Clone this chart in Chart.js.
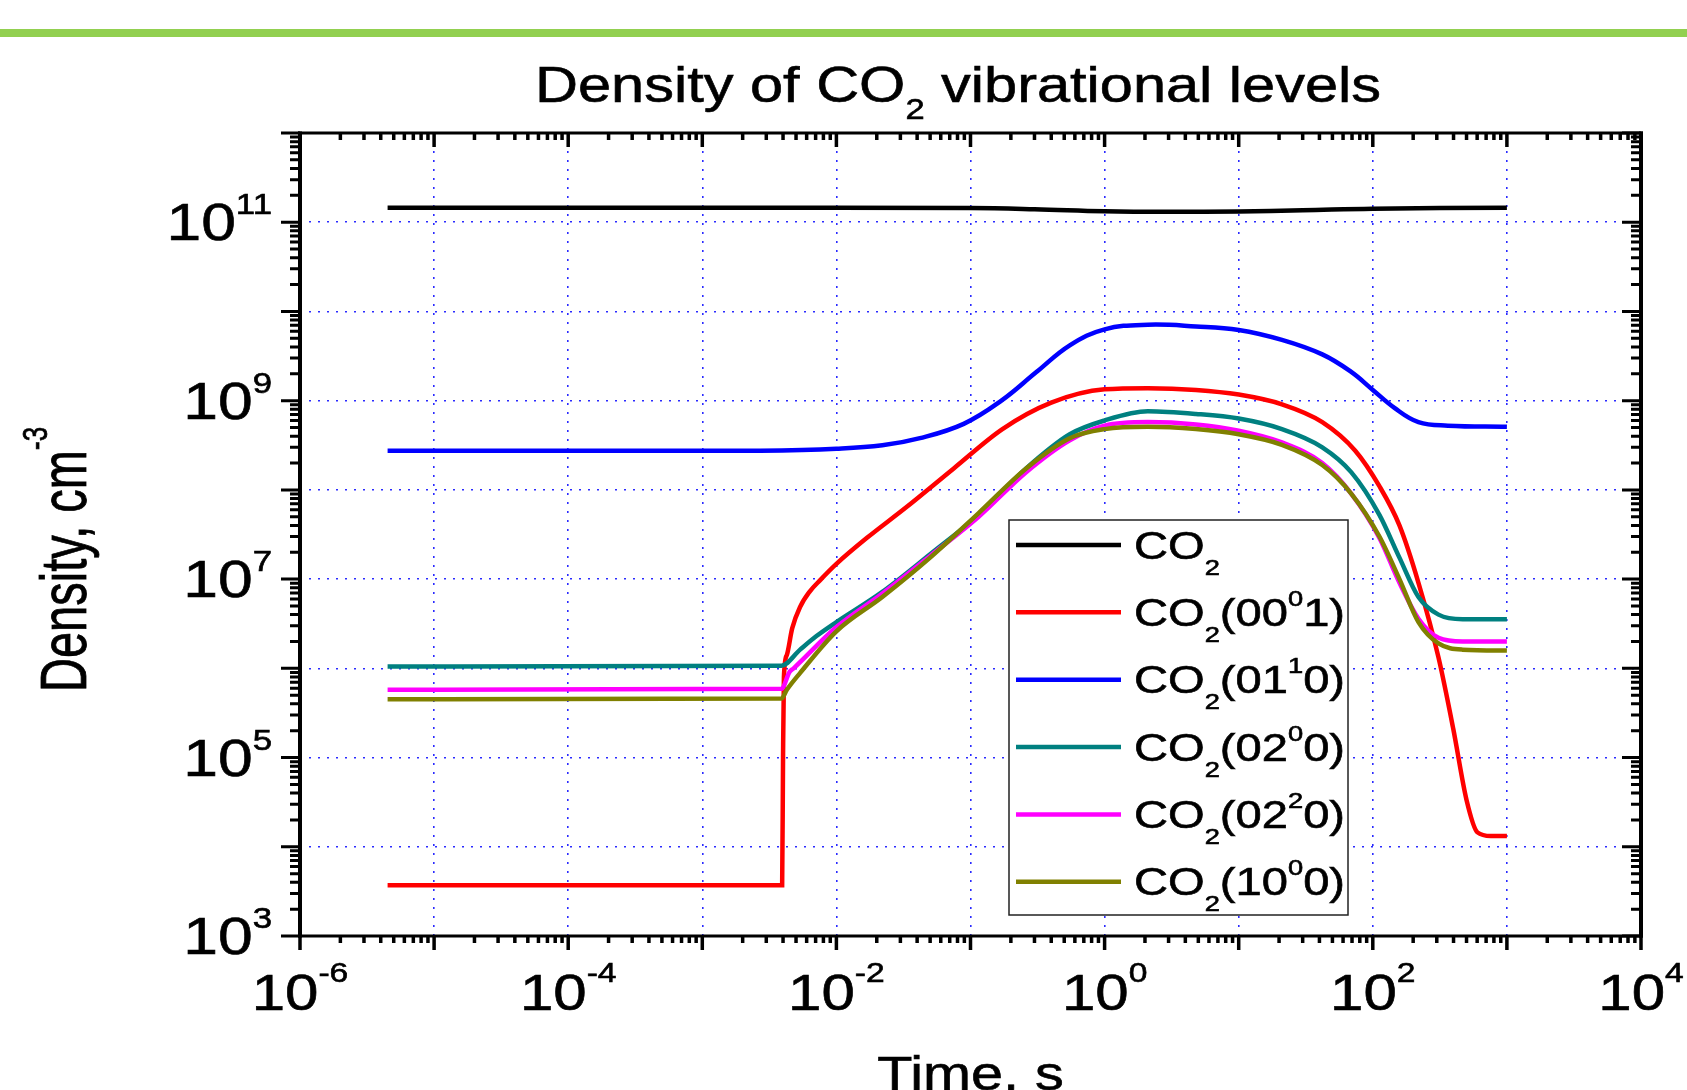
<!DOCTYPE html>
<html>
<head>
<meta charset="utf-8">
<title>Density of CO2 vibrational levels</title>
<script src="https://cdn.jsdelivr.net/npm/chart.js@4.4.1/dist/chart.umd.min.js"></script>
<style>
  html, body { margin: 0; padding: 0; background: #ffffff; overflow: hidden; }
  #plot { display: block; width: 1687px; height: 1090px; }
</style>
</head>
<body>
<canvas id="plot" width="1687" height="1090"></canvas>
<script>
// ---- Data: time (s) and density (cm^-3) for each vibrational level ----
const tCO2 = [4.5e-6, 1e-3, 0.1, 0.3, 1, 3, 10, 30, 100, 1000];
const nCO2 = [1.45e11, 1.45e11, 1.44e11, 1.40e11, 1.33e11, 1.31e11, 1.32e11, 1.36e11, 1.42e11, 1.45e11];

const t0001 = [4.5e-6, 3.94e-3, 4.0e-3, 4.06e-3, 4.27e-3, 4.68e-3, 5.37e-3, 6.3e-3, 7.6e-3, 1e-2,
               1.69e-2, 3.28e-2, 7.5e-2, 0.173, 0.40, 1, 2.1, 4.8, 10, 21,
               42, 74, 112, 158, 219, 309, 398, 501, 603, 759, 1000];
const n0001 = [3.7e3, 3.7e3, 1.0e5, 7.9e5, 1.41e6, 2.8e6, 4.9e6, 7.2e6, 9.8e6, 1.48e7,
               2.9e7, 6.3e7, 1.74e8, 4.8e8, 9.5e8, 1.34e9, 1.38e9, 1.32e9, 1.17e9, 9.1e8,
               5.75e8, 2.75e8, 1.1e8, 4.0e7, 9.1e6, 1.32e6, 2.1e5, 3.3e4, 1.45e4, 1.32e4, 1.32e4];

const t0110 = [4.5e-6, 1e-3, 2.7e-3, 1e-2, 2.2e-2, 4.2e-2, 8.9e-2, 0.17, 0.31, 0.55,
               1, 2.1, 4.8, 10, 21, 42, 69, 100, 145, 219, 363, 1000];
const n0110 = [2.75e8, 2.75e8, 2.75e8, 2.9e8, 3.16e8, 3.8e8, 5.5e8, 1.0e9, 2.09e9, 4.17e9,
               6.3e9, 7.1e9, 6.8e9, 6.2e9, 4.8e9, 3.3e9, 2.1e9, 1.32e9, 8.3e8, 5.75e8, 5.25e8, 5.1e8];

const t0200 = [4.5e-6, 3.9e-3, 5.36e-3, 7.1e-3, 1e-2, 2.2e-2, 5e-2, 0.115, 0.26, 0.55, 1,
               2.1, 4.8, 10, 21, 42, 69, 112, 158, 219, 309, 468, 1000];
const n0200 = [1.05e6, 1.07e6, 1.62e6, 2.3e6, 3.3e6, 7.2e6, 1.9e7, 5.25e7, 1.74e8, 4.2e8, 6.0e8,
               7.6e8, 7.1e8, 6.3e8, 4.8e8, 3.0e8, 1.58e8, 5.25e7, 1.74e7, 6.3e6, 4.0e6, 3.55e6, 3.55e6];

const t0220 = [4.5e-6, 3.9e-3, 4.47e-3, 4.8e-3, 1e-2, 2.2e-2, 5e-2, 0.115, 0.26, 0.55,
               1, 2.1, 4.8, 10, 21, 42, 69, 112, 158, 219, 309, 468, 1000];
const n0220 = [5.75e5, 5.9e5, 9.1e5, 1.0e6, 2.9e6, 6.9e6, 1.82e7, 5.0e7, 1.58e8, 3.6e8,
               5.25e8, 5.75e8, 5.4e8, 4.6e8, 3.4e8, 2.0e8, 9.1e7, 2.9e7, 9.1e6, 3.6e6, 2.2e6, 2.0e6, 2.0e6];

const t1000 = [4.5e-6, 3.9e-3, 4.27e-3, 5.37e-3, 1e-2, 2.2e-2, 5e-2, 0.115, 0.26, 0.55,
               1, 2.1, 4.8, 10, 21, 42, 69, 112, 158, 219, 309, 468, 1000];
const n1000 = [4.5e5, 4.6e5, 5.75e5, 8.9e5, 2.6e6, 6.3e6, 1.74e7, 5.5e7, 1.74e8, 3.8e8,
               4.8e8, 5.1e8, 4.8e8, 4.2e8, 3.2e8, 1.9e8, 9.1e7, 3.0e7, 1.0e7, 3.3e6, 1.9e6, 1.62e6, 1.58e6];

// ---- Series labels (legend) ----
const seriesLabels = ['CO₂', 'CO₂(00⁰1)', 'CO₂(01¹0)', 'CO₂(02⁰0)', 'CO₂(02²0)', 'CO₂(10⁰0)'];
const levelMode = ['', '00', '01', '02', '02', '10'];
const levelSup  = ['', '0', '1', '0', '2', '0'];
const levelTail = ['', '1', '0', '0', '0', '0'];
const seriesColors = ['#000000', '#ff0000', '#0000ff', '#008080', '#ff00ff', '#808000'];
const seriesTimes = [tCO2, t0001, t0110, t0200, t0220, t1000];
const seriesDensity = [nCO2, n0001, n0110, n0200, n0220, n1000];

// ---- Axis decades ----
const xDecadeMin = -6, xDecadeMax = 4;
const yDecadeMin = 3, yDecadeMax = 12;
const xGridExps = [-5, -4, -3, -2, -1, 0, 1, 2, 3];
const yGridExps = [4, 5, 6, 7, 8, 9, 10, 11];
const xLabelExps = [-6, -4, -2, 0, 2, 4];
const yLabelExps = [3, 5, 7, 9, 11];

const FONT = '"Liberation Sans", Arial, Helvetica, sans-serif';
const STRETCH = 1.2;

function richWidth(ctx, parts, sx) {
  let w = 0;
  for (const p of parts) { ctx.font = p.size + 'px ' + FONT; w += ctx.measureText(p.text).width; }
  return w * sx;
}
// Draws a run of text pieces (with sub/superscripts), horizontally scaled by sx.
function drawRich(ctx, parts, x, y, align, sx) {
  const w = richWidth(ctx, parts, sx);
  let cx = align === 'center' ? x - w / 2 : (align === 'right' ? x - w : x);
  ctx.textAlign = 'left';
  ctx.textBaseline = 'alphabetic';
  ctx.lineWidth = 0.6;
  ctx.strokeStyle = ctx.fillStyle;
  for (const p of parts) {
    ctx.font = p.size + 'px ' + FONT;
    ctx.save();
    ctx.translate(cx, y + (p.dy || 0));
    ctx.scale(sx, 1);
    ctx.fillText(p.text, 0, 0);
    ctx.strokeText(p.text, 0, 0);
    ctx.restore();
    cx += ctx.measureText(p.text).width * sx;
  }
}

const decorations = {
  id: 'decorations',
  afterDatasetsDraw(chart) {
    const ctx = chart.ctx;
    const xs = chart.scales.x, ys = chart.scales.y;
    const a = chart.chartArea;
    ctx.save();
    ctx.strokeStyle = '#000000';
    ctx.lineCap = 'butt';

    // x-axis tick marks: bottom outward, top inward
    ctx.lineWidth = 3.5;
    for (let e = xDecadeMin; e <= xDecadeMax; e++) {
      for (let m = 1; m <= 9; m++) {
        if (e === xDecadeMax && m > 1) break;
        const px = xs.getPixelForValue(m * Math.pow(10, e));
        const len = m === 1 ? 14 : 7;
        ctx.beginPath();
        ctx.moveTo(px, a.bottom); ctx.lineTo(px, a.bottom + len);
        ctx.moveTo(px, a.top); ctx.lineTo(px, a.top + len);
        ctx.stroke();
      }
    }
    // y-axis tick marks: left outward, right inward
    ctx.lineWidth = 3;
    for (let e = yDecadeMin; e <= yDecadeMax; e++) {
      for (let m = 1; m <= 9; m++) {
        if (e === yDecadeMax && m > 1) break;
        const py = ys.getPixelForValue(m * Math.pow(10, e));
        const len = m === 1 ? 19 : 10;
        ctx.beginPath();
        ctx.moveTo(a.left, py); ctx.lineTo(a.left - len, py);
        ctx.moveTo(a.right, py); ctx.lineTo(a.right - len, py);
        ctx.stroke();
      }
    }
    // plot frame
    ctx.lineWidth = 3;
    ctx.beginPath();
    ctx.moveTo(a.left - 2, a.top); ctx.lineTo(a.right + 2, a.top);
    ctx.moveTo(a.left - 2, a.bottom); ctx.lineTo(a.right + 2, a.bottom);
    ctx.stroke();
    ctx.lineWidth = 4;
    ctx.beginPath();
    ctx.moveTo(a.left, a.top - 1.5); ctx.lineTo(a.left, a.bottom + 1.5);
    ctx.moveTo(a.right, a.top - 1.5); ctx.lineTo(a.right, a.bottom + 1.5);
    ctx.stroke();
    ctx.restore();
  },
  afterDraw(chart) {
    const ctx = chart.ctx;
    const xs = chart.scales.x, ys = chart.scales.y;
    const a = chart.chartArea;
    ctx.save();

    // header rule
    ctx.fillStyle = '#92d050';
    ctx.fillRect(0, 29, chart.width, 8);

    ctx.fillStyle = '#000000';
    // title
    drawRich(ctx, [
      { text: 'Density of CO', size: 50 },
      { text: '2', size: 29, dy: 17 },
      { text: ' vibrational levels', size: 50 }
    ], 958, 102, 'center', 1.19);

    // y tick labels
    for (const e of yLabelExps) {
      const py = ys.getPixelForValue(Math.pow(10, e));
      drawRich(ctx, [
        { text: '10', size: 52 },
        { text: String(e), size: 29, dy: -26 }
      ], a.left - 28, py + 18, 'right', STRETCH);
    }
    // x tick labels
    for (const e of xLabelExps) {
      const px = xs.getPixelForValue(Math.pow(10, e));
      drawRich(ctx, [
        { text: '10', size: 50 },
        { text: String(e), size: 28, dy: -28 }
      ], px, a.bottom + 74, 'center', STRETCH);
    }
    // axis titles
    drawRich(ctx, [{ text: 'Time, s', size: 48 }], (a.left + a.right) / 2, 1090, 'center', STRETCH);
    ctx.save();
    ctx.translate(86, 692);
    ctx.rotate(-Math.PI / 2);
    ctx.scale(1, 1.36);
    drawRich(ctx, [
      { text: 'Density, cm', size: 47 },
      { text: '-3', size: 26, dy: -29 }
    ], 0, 0, 'left', 1);
    ctx.restore();

    // legend
    const bx = 1009, by = 520, bw = 339, bh = 395;
    ctx.fillStyle = '#ffffff';
    ctx.fillRect(bx, by, bw, bh);
    ctx.strokeStyle = '#222222';
    ctx.lineWidth = 1.5;
    ctx.strokeRect(bx, by, bw, bh);
    chart.data.datasets.forEach((ds, i) => {
      const ry = 545 + i * 67.35;
      ctx.strokeStyle = ds.borderColor;
      ctx.lineWidth = 4.5;
      ctx.beginPath();
      ctx.moveTo(1016, ry); ctx.lineTo(1121, ry);
      ctx.stroke();
      ctx.fillStyle = '#000000';
      const parts = [{ text: 'CO', size: 38 }, { text: '2', size: 22, dy: 16 }];
      if (levelMode[i]) {
        parts.push({ text: '(' + levelMode[i], size: 38 });
        parts.push({ text: levelSup[i], size: 22, dy: -20 });
        parts.push({ text: levelTail[i] + ')', size: 38 });
      }
      drawRich(ctx, parts, 1134, ry + 13.5, 'left', 1.24);
    });
    ctx.restore();
  }
};

const smoothSeries = [true, false, true, false, false, false];
const datasets = seriesLabels.map((label, i) => ({
  label: label,
  data: seriesTimes[i].map((t, k) => ({ x: t, y: seriesDensity[i][k] })),
  borderColor: seriesColors[i],
  backgroundColor: seriesColors[i],
  borderWidth: 4.5,
  pointRadius: 0,
  fill: false,
  tension: smoothSeries[i] ? 0.4 : 0,
  cubicInterpolationMode: smoothSeries[i] ? 'default' : 'monotone',
  order: seriesLabels.length - i
}));

const gridStyle = {
  color: 'rgba(20, 20, 255, 0.9)',
  lineWidth: 1.6,
  drawTicks: false
};

new Chart(document.getElementById('plot'), {
  type: 'line',
  data: { datasets: datasets },
  options: {
    responsive: false,
    animation: false,
    layout: { autoPadding: false, padding: { left: 300, right: 46, top: 133, bottom: 154 } },
    plugins: { legend: { display: false }, tooltip: { enabled: false }, title: { display: false } },
    scales: {
      x: {
        type: 'logarithmic',
        min: Math.pow(10, xDecadeMin), max: Math.pow(10, xDecadeMax),
        ticks: { display: false },
        grid: gridStyle,
        border: { display: false, dash: [2, 7] },
        afterBuildTicks: (s) => { s.ticks = xGridExps.map(e => ({ value: Math.pow(10, e) })); }
      },
      y: {
        type: 'logarithmic',
        min: Math.pow(10, yDecadeMin), max: Math.pow(10, yDecadeMax),
        ticks: { display: false },
        grid: gridStyle,
        border: { display: false, dash: [2, 7] },
        afterBuildTicks: (s) => { s.ticks = yGridExps.map(e => ({ value: Math.pow(10, e) })); }
      }
    }
  },
  plugins: [decorations]
});
</script>
</body>
</html>
